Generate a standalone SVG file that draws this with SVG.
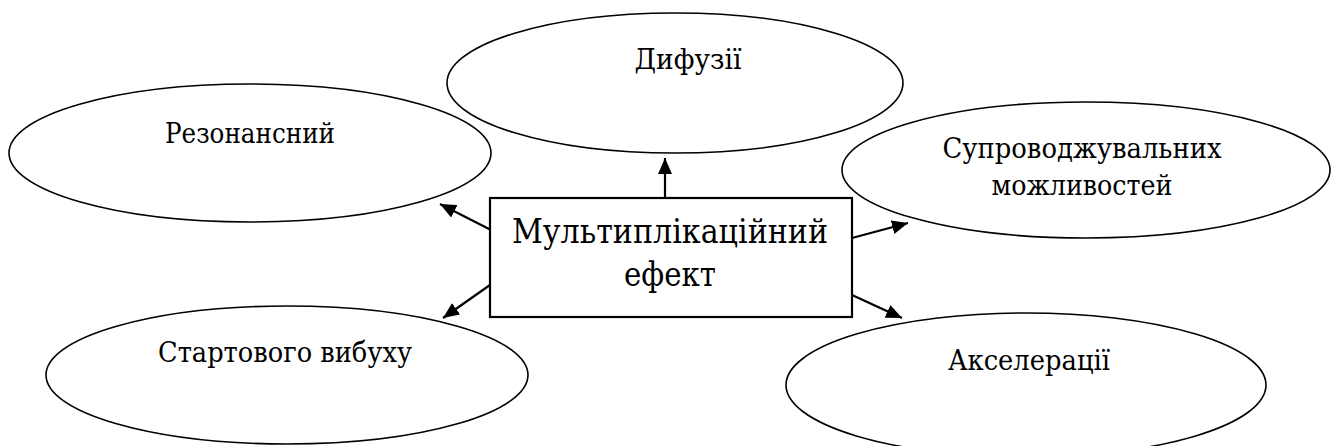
<svg xmlns="http://www.w3.org/2000/svg" width="1333" height="446" viewBox="0 0 1333 446">
<style>
.el{fill:#fff;stroke:#000;stroke-width:1.6}
.bx{fill:#fff;stroke:#000;stroke-width:2.2}
.t{font-family:"DejaVu Serif",serif;font-size:27px;fill:#000;text-anchor:middle}
.tc{font-family:"DejaVu Serif",serif;font-size:34px;fill:#000;text-anchor:middle}
.c{stroke:#000;stroke-width:2.2;fill:none;marker-end:url(#ah)}
</style>
<defs>
<marker id="ah" markerUnits="userSpaceOnUse" markerWidth="18" markerHeight="14" refX="16" refY="7" orient="auto">
<path d="M0,0 L16,7 L0,14 Z" fill="#000"/>
</marker>
</defs>
<g id="n-dyfuzii"><ellipse class="el" cx="675" cy="83" rx="228" ry="70"/><text class="t" x="688" y="69" textLength="107" lengthAdjust="spacingAndGlyphs">Дифузії</text></g>
<g id="n-rezonansnyi"><ellipse class="el" cx="250" cy="153" rx="241" ry="69"/><text class="t" x="250" y="143" textLength="170" lengthAdjust="spacingAndGlyphs">Резонансний</text></g>
<g id="n-suprovod"><ellipse class="el" cx="1086" cy="170" rx="244" ry="68"/><text class="t" x="1082" y="158" textLength="279" lengthAdjust="spacingAndGlyphs">Супроводжувальних</text><text class="t" x="1082" y="195" textLength="181" lengthAdjust="spacingAndGlyphs">можливостей</text></g>
<g id="n-start"><ellipse class="el" cx="287" cy="375" rx="241" ry="69"/><text class="t" x="285" y="362" textLength="254" lengthAdjust="spacingAndGlyphs">Стартового вибуху</text></g>
<g id="n-akseler"><ellipse class="el" cx="1026" cy="385" rx="240" ry="72"/><text class="t" x="1029" y="370" textLength="162" lengthAdjust="spacingAndGlyphs">Акселерації</text></g>
<g id="connectors">
<line class="c" x1="665" y1="198" x2="665" y2="158"/>
<line class="c" x1="493" y1="231" x2="440" y2="204"/>
<line class="c" x1="852" y1="238" x2="908" y2="223"/>
<line class="c" x1="490" y1="285" x2="443" y2="318"/>
<line class="c" x1="852" y1="295" x2="902" y2="318"/>
</g>
<g id="n-center"><rect class="bx" x="490" y="198" width="362" height="119"/><text class="tc" x="670" y="243" textLength="316" lengthAdjust="spacingAndGlyphs">Мультиплікаційний</text><text class="tc" x="670" y="286" textLength="92" lengthAdjust="spacingAndGlyphs">ефект</text></g>
</svg>
